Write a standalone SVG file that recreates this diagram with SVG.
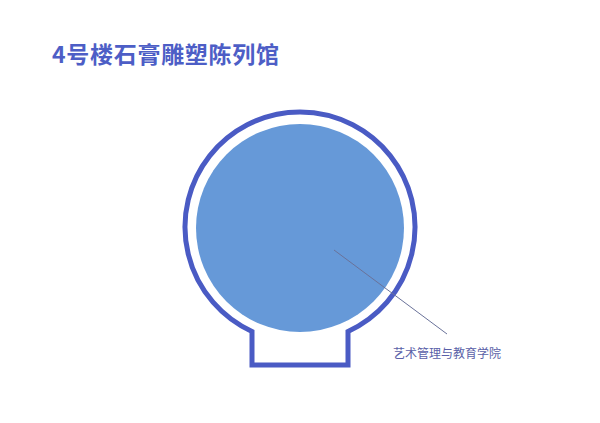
<svg xmlns="http://www.w3.org/2000/svg" width="600" height="423" viewBox="0 0 600 423">
<style>
.title{font-family:"Noto Sans CJK SC","Noto Sans",sans-serif;font-size:23px;font-weight:bold;fill:#4d5ec6}
.label{font-family:"Noto Sans CJK SC","Noto Sans",sans-serif;font-size:12px;fill:#5a5fa8}
</style>
<rect width="600" height="423" fill="#ffffff"/>
<text class="title" x="52" y="63" textLength="227" lengthAdjust="spacing">4号楼石膏雕塑陈列馆</text>
<g id="outline">
<path d="M 252 331.5 A 115 115 0 1 1 348 331.5 L 348 365 L 252 365 Z" fill="none" stroke="#4a5bc4" stroke-width="5" stroke-linejoin="miter"/>
</g>
<g id="hall">
<circle cx="300" cy="228" r="104" fill="#6699d8"/>
</g>
<g id="connectors">
<line x1="334" y1="250" x2="447" y2="334" stroke="#6a7299" stroke-width="1"/>
</g>
<g id="label">
<text class="label" x="393" y="358">艺术管理与教育学院</text>
</g>
</svg>
